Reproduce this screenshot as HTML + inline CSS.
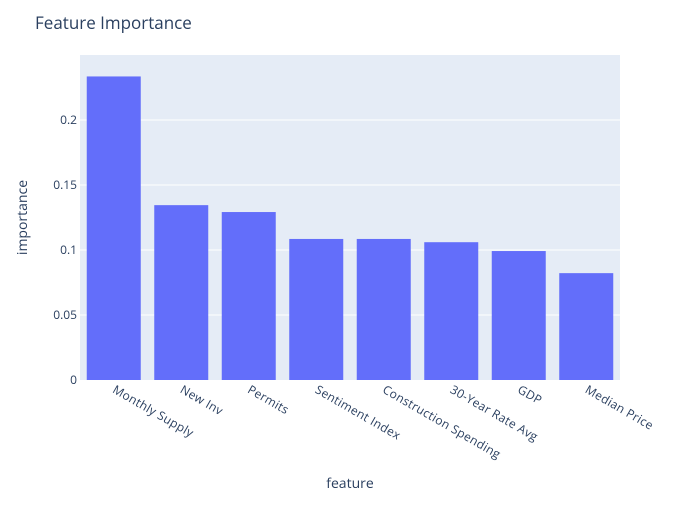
<!DOCTYPE html>
<html><head><meta charset="utf-8"><style>
body{margin:0;background:#fff;font-family:"Open Sans","Liberation Sans",sans-serif;}
text{fill:#2a3f5f;}
</style></head><body>
<svg id="chart" width="700" height="500" xmlns="http://www.w3.org/2000/svg">
<rect x="0" y="0" width="700" height="500" fill="#fff"/>
<rect x="80" y="55" width="540" height="325" fill="#E5ECF6"/>
<g id="grid"></g><g id="bars"></g><g id="xt"></g><g id="yt"></g>
<text x="35" y="29" font-size="17">Feature Importance</text>
<text x="350" y="488" font-size="14" text-anchor="middle">feature</text>
<text transform="translate(27,217.5) rotate(-90)" font-size="14" text-anchor="middle">importance</text>
</svg>
<script>
const categories=["Monthly Supply","New Inv","Permits","Sentiment Index","Construction Spending","30-Year Rate Avg","GDP","Median Price"];
const values=[0.2335,0.1345,0.1292,0.1085,0.1085,0.106,0.0992,0.0822];
const yTicks=[0,0.05,0.1,0.15,0.2];
const yTickLabels=["0","0.05","0.1","0.15","0.2"];
const NS="http://www.w3.org/2000/svg";
const L=80,R=620,T=55,B=380,yMax=0.25;
const y=v=>B-v/yMax*(B-T);
const band=(R-L)/categories.length;
const x=i=>L+band*(i+0.5);
function mk(t,a,p){const e=document.createElementNS(NS,t);for(const k in a)e.setAttribute(k,a[k]);p.appendChild(e);return e;}
const g=document.getElementById('grid'),bg=document.getElementById('bars'),xt=document.getElementById('xt'),yt=document.getElementById('yt');
yTicks.forEach((v,i)=>{
 if(v>0){const l=mk('line',{x1:L,x2:R,y1:y(v),y2:y(v),stroke:'#fff','stroke-width':1},g);
 
 }
 const t=mk('text',{x:L-3,y:y(v)+4,'font-size':12,'text-anchor':'end'},yt);t.textContent=yTickLabels[i];
 
 
});
categories.forEach((c,i)=>{
 const w=band*0.8;
 const r=mk('rect',{x:x(i)-w/2,y:y(values[i]),width:w,height:B-y(values[i]),fill:'#636efa'},bg);
 
 
 const t=mk('text',{transform:`translate(${x(i)-2},${B+12}) rotate(30)`,'font-size':12,'letter-spacing':'0.3'},xt);t.textContent=c;
 
 
});
</script>
</body></html>
